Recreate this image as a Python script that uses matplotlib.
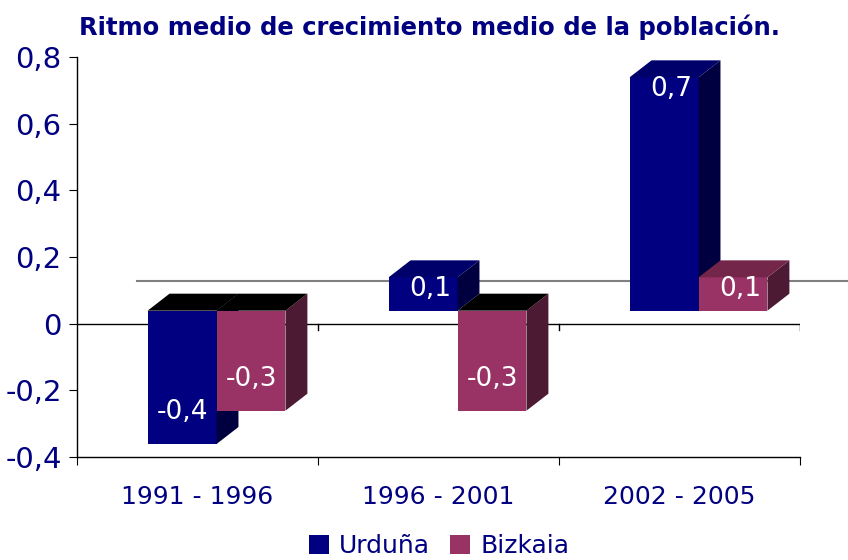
import numpy as np
import matplotlib
matplotlib.use("Agg")
import matplotlib.pyplot as plt
from matplotlib.patches import Polygon, Patch

periods = ["1991 - 1996", "1996 - 2001", "2002 - 2005"]
series = ["Urduña", "Bizkaia"]
urduna = [-0.4, 0.1, 0.7]
bizkaia = [-0.3, -0.3, 0.1]
yticks = [-0.4, -0.2, 0, 0.2, 0.4, 0.6, 0.8]
ytick_labels = ["-0,4", "-0,2", "0", "0,2", "0,4", "0,6", "0,8"]

NAVY = "#000080"
# front, side, top (positive), top (negative)
colors = {
    "Urduña": ("#000080", "#000040", "#00006b", "#000000"),
    "Bizkaia": ("#993366", "#4d1a33", "#732649", "#000000"),
}

plt.rcParams["font.family"] = ["DejaVu Sans"]

fig = plt.figure(figsize=(8.48, 5.6), dpi=100)
ax = fig.add_axes([0.0908, 0.1839, 0.8526, 0.7143])
ax.set_xlim(0, 3)
ax.set_ylim(-0.4, 0.8)

# 3d look: baseline and depth offsets (data units)
base = 0.039
dx, dy = 0.091, 0.051
w = 0.286
left = 0.293


def bar3d(x0, v, front, side, top, z):
    y0, y1 = sorted([base, base + v])
    ax.add_patch(Polygon([(x0, y0), (x0 + w, y0), (x0 + w, y1), (x0, y1)],
                         closed=True, fc=front, ec="none", zorder=z))
    ax.add_patch(Polygon([(x0 + w, y0), (x0 + w + dx, y0 + dy),
                          (x0 + w + dx, y1 + dy), (x0 + w, y1)],
                         closed=True, fc=side, ec="none", zorder=z))
    ax.add_patch(Polygon([(x0, y1), (x0 + dx, y1 + dy),
                          (x0 + w + dx, y1 + dy), (x0 + w, y1)],
                         closed=True, fc=top, ec="none", zorder=z))


# back wall line and zero line
ax.plot([0.25, 3.2], [0.129, 0.129], color="#808080", lw=1.5,
        clip_on=False, zorder=1)
ax.axhline(0, color="black", lw=1.0, zorder=1)
for xb in [1, 2, 3]:
    ax.plot([xb, xb], [0, -0.02], color="black", lw=1.0, zorder=1)

z = 3
for i in range(len(periods)):
    for j, (name, vals) in enumerate(zip(series, [urduna, bizkaia])):
        v = vals[i]
        front, side, top_pos, top_neg = colors[name]
        x0 = i + left + j * w
        bar3d(x0, v, front, side, top_pos if v > 0 else top_neg, z)
        z += 1
        label = f"{v:.1f}".replace(".", ",")
        if v > 0:
            tx, ty = x0 + w / 2 + 0.03, base + v - 0.035
        else:
            tx, ty = x0 + w / 2, base + v + 0.096
        ax.text(tx, ty, label, color="white", fontsize=19,
                ha="center", va="center", zorder=20)

# axes styling
for s in ["top", "right"]:
    ax.spines[s].set_visible(False)
ax.spines["left"].set_linewidth(1.0)
ax.spines["bottom"].set_linewidth(1.0)
ax.set_yticks(yticks)
ax.set_yticklabels(ytick_labels)
ax.tick_params(axis="y", colors="black", labelcolor=NAVY, labelsize=21,
               length=6, pad=5)
ax.set_xticks([0, 1, 2, 3])
ax.set_xticklabels([])
ax.tick_params(axis="x", which="major", length=6, colors="black")
ax.set_xticks([0.5, 1.5, 2.5], minor=True)
ax.set_xticklabels(periods, minor=True)
ax.tick_params(axis="x", which="minor", length=0, pad=20,
               labelsize=18, labelcolor=NAVY)

fig.text(0.507, 0.952, "Ritmo medio de crecimiento medio de la población.",
         ha="center", va="center", fontsize=17.5, fontweight="bold",
         color=NAVY)

handles = [Patch(fc=colors[n][0], ec="none") for n in series]
fig.legend(handles, series, loc="center", bbox_to_anchor=(0.518, 0.025),
           ncol=2, frameon=False, fontsize=18, labelcolor=NAVY,
           handlelength=0.8, handleheight=0.8, handletextpad=0.4,
           columnspacing=0.8)

fig.savefig("out.png", dpi=100)
